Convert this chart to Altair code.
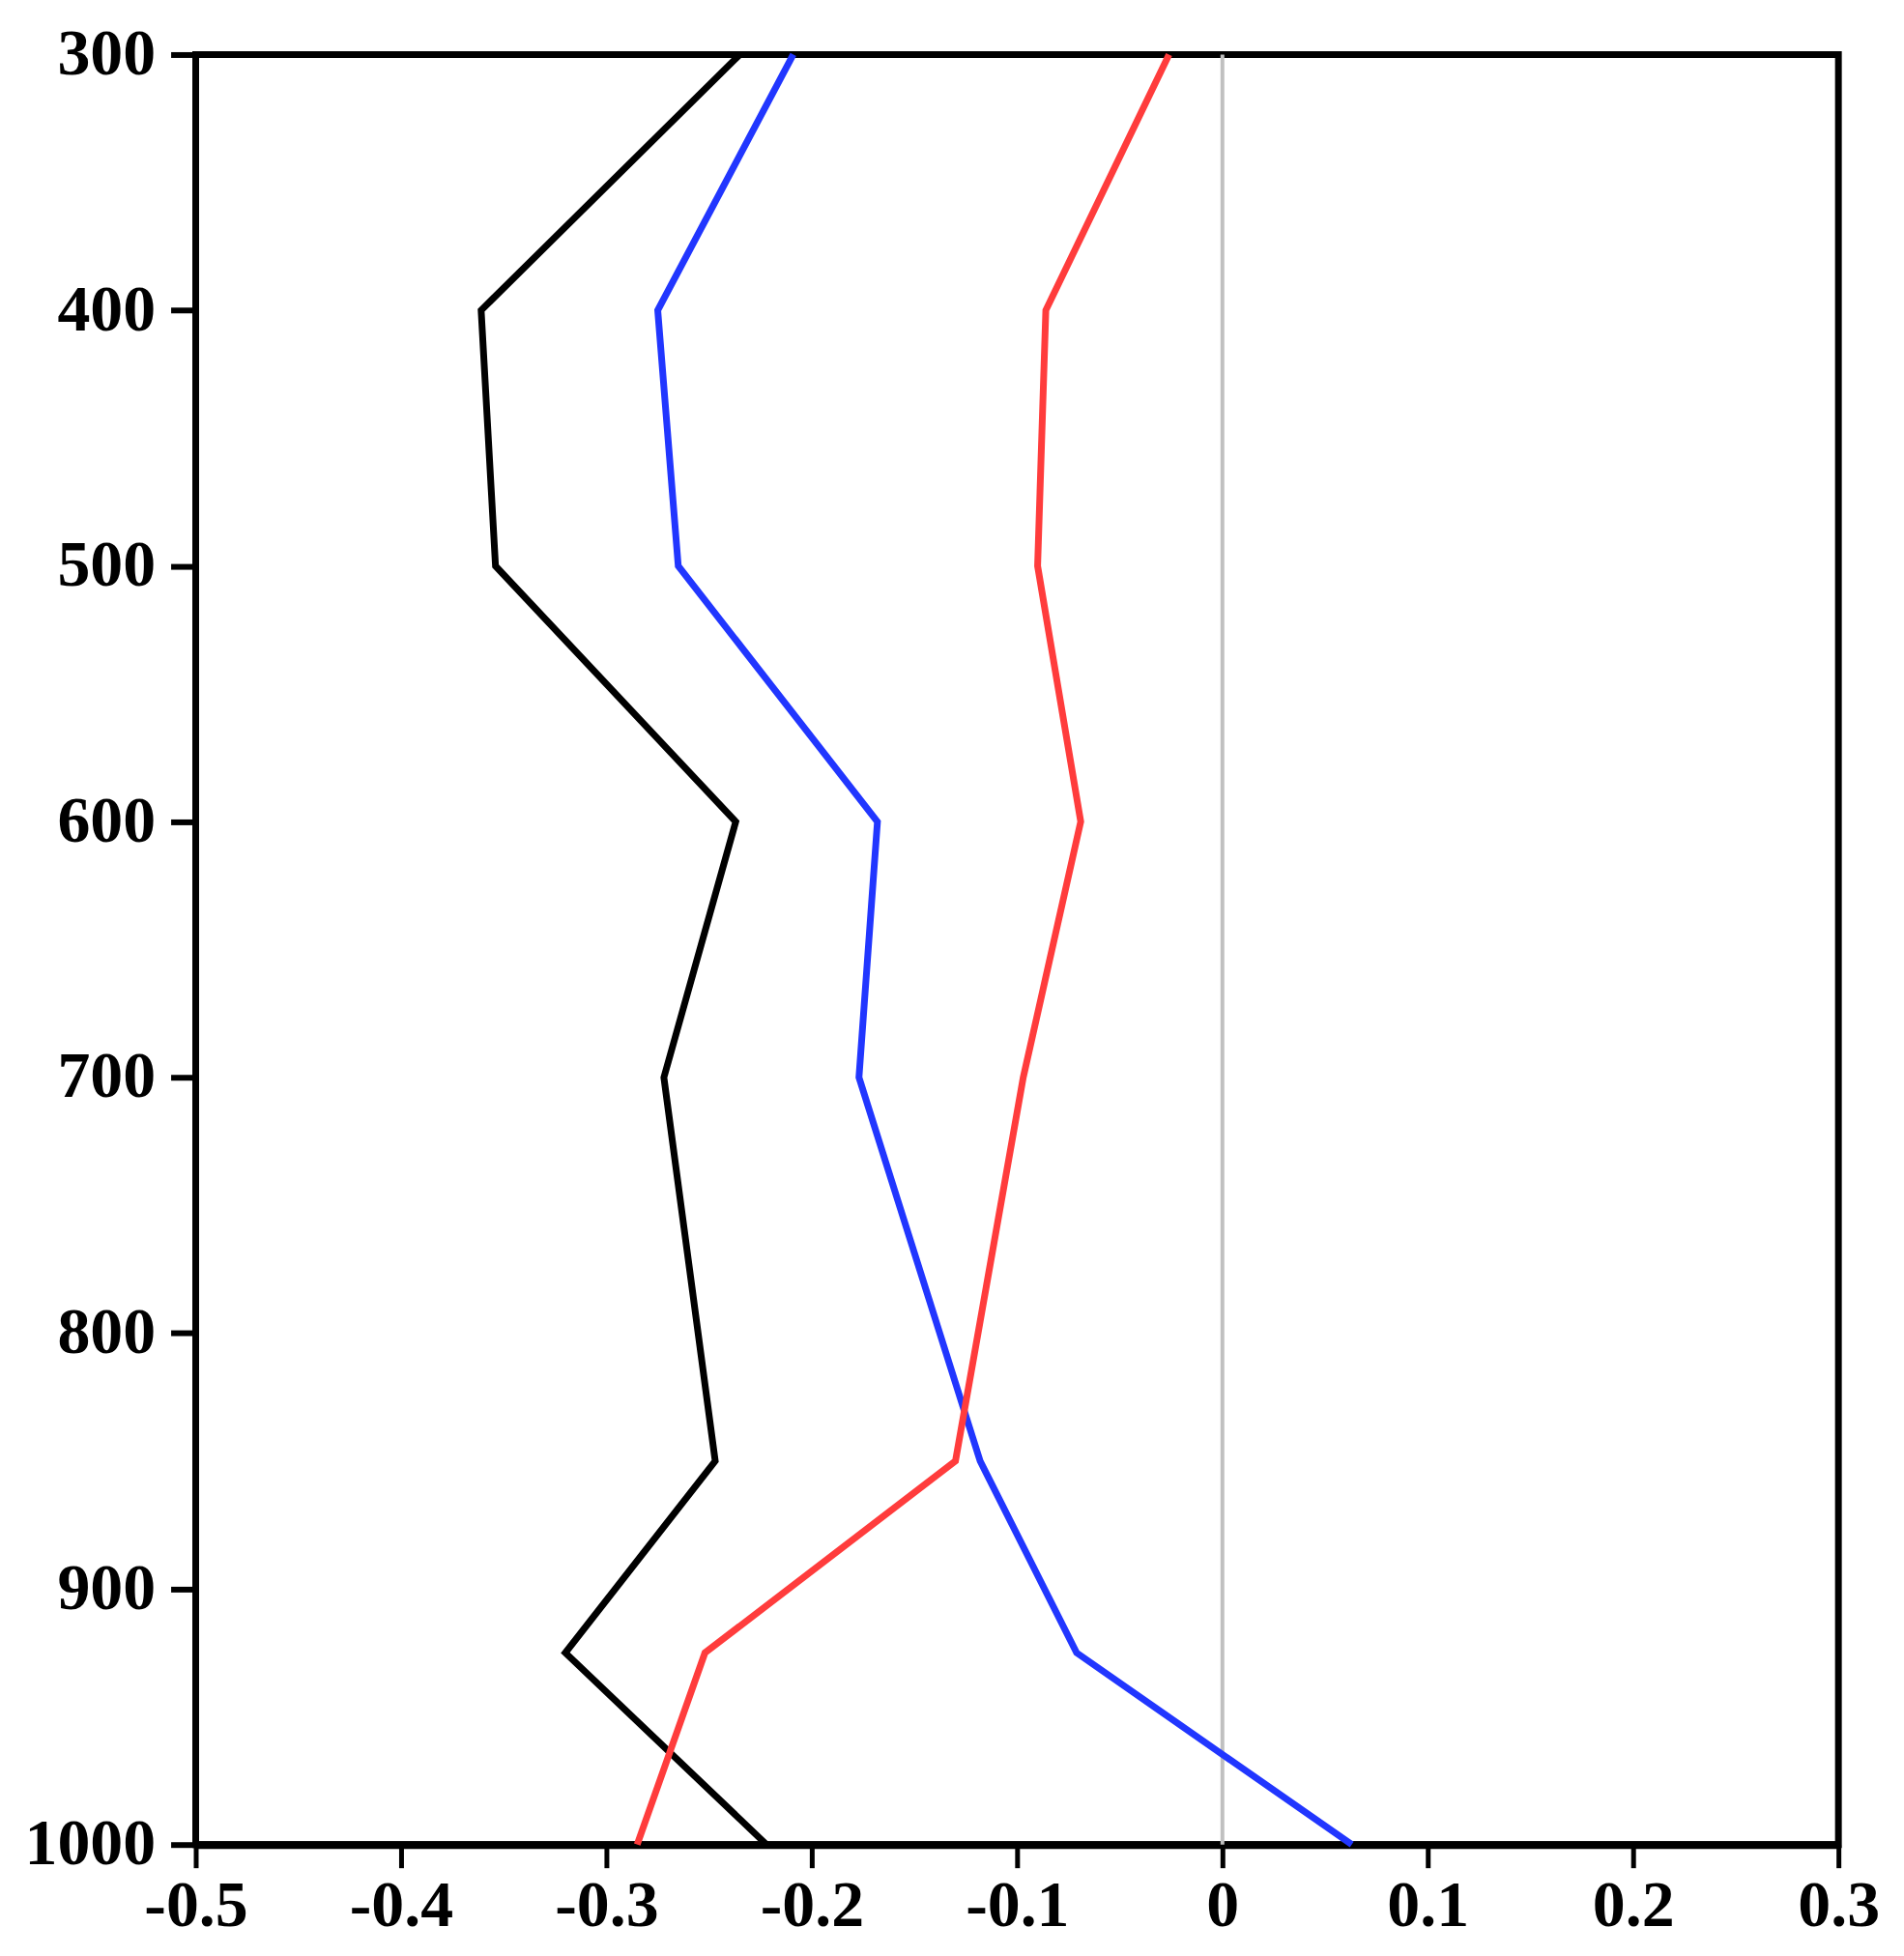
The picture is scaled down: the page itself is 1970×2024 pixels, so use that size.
import altair as alt
import pandas as pd

pressure = [300, 400, 500, 600, 700, 850, 925, 1000]
black_vals = [-0.235, -0.361, -0.354, -0.237, -0.272, -0.247, -0.320, -0.222]
blue_vals = [-0.209, -0.275, -0.265, -0.168, -0.177, -0.118, -0.071, 0.063]
red_vals = [-0.026, -0.086, -0.090, -0.069, -0.097, -0.130, -0.252, -0.285]

series_names = ["blue", "red", "black"]
series_colors = ["#2136ff", "#ff3c3c", "#000000"]
x_ticks = [-0.5, -0.4, -0.3, -0.2, -0.1, 0.0, 0.1, 0.2, 0.3]
y_ticks = [300, 400, 500, 600, 700, 800, 900, 1000]

rows = []
for name, vals in zip(["black", "blue", "red"], [black_vals, blue_vals, red_vals]):
    for p, v in zip(pressure, vals):
        rows.append({"series": name, "pressure": p, "value": v})
df = pd.DataFrame(rows)

FONT = "Liberation Serif"

x_enc = alt.X(
    "value:Q",
    scale=alt.Scale(domain=[-0.5, 0.3], nice=False, zero=False),
    axis=alt.Axis(
        values=x_ticks,
        labelExpr="datum.value == 0 ? '0' : (datum.value < 0 ? '-' : '') + format(abs(datum.value), '.1f')",
        title=None,
        grid=False,
        domainColor="black",
        domainWidth=8,
        tickColor="black",
        tickWidth=5,
        tickSize=24,
        labelPadding=6,
        labelFont=FONT,
        labelFontSize=68,
        labelFontWeight="bold",
        labelColor="black",
        labelFlush=False,
        labelOverlap=False,
    ),
)
y_enc = alt.Y(
    "pressure:Q",
    scale=alt.Scale(domain=[300, 1000], reverse=True, nice=False, zero=False),
    axis=alt.Axis(
        values=y_ticks,
        format="d",
        title=None,
        grid=False,
        domainColor="black",
        domainWidth=6,
        tickColor="black",
        tickWidth=6,
        tickSize=26,
        labelPadding=16,
        labelFont=FONT,
        labelFontSize=68,
        labelFontWeight="bold",
        labelColor="black",
        labelFlush=False,
        labelOverlap=False,
        labelBaseline="middle",
    ),
)

zero_df = pd.DataFrame({"value": [0.0]})
zero_rule = alt.Chart(zero_df).mark_rule(color="#c0c0c0", strokeWidth=4).encode(
    x=alt.X("value:Q", scale=alt.Scale(domain=[-0.5, 0.3], nice=False, zero=False))
)

lines = alt.Chart(df).mark_line(strokeWidth=7).encode(
    x=x_enc,
    y=y_enc,
    color=alt.Color(
        "series:N",
        scale=alt.Scale(domain=series_names, range=series_colors),
        legend=None,
    ),
    order=alt.Order("pressure:Q"),
)

chart = (
    alt.layer(zero_rule, lines)
    .properties(
        width=1704,
        height=1857,
        autosize=alt.AutoSizeParams(type="none"),
        padding={"left": 195, "top": 46, "right": 60, "bottom": 110},
        background="white",
    )
    .configure_view(stroke="black", strokeWidth=7)
)

chart.save("out.html", embed_options={"renderer": "svg", "actions": False})
